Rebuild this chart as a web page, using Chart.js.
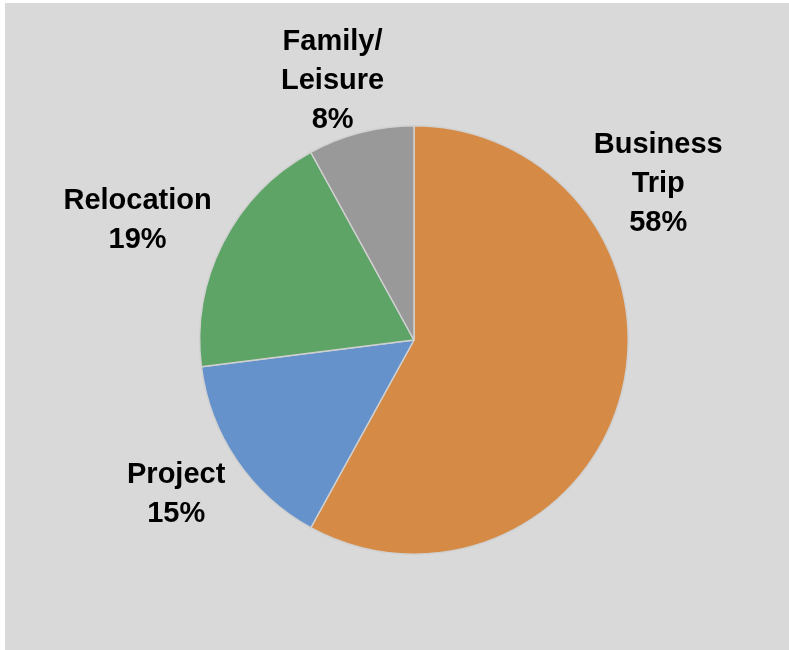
<!DOCTYPE html>
<html>
<head>
<meta charset="utf-8">
<title>Trip purpose</title>
<script src="https://cdn.jsdelivr.net/npm/chart.js@4/dist/chart.umd.min.js"></script>
<style>
  html, body { margin: 0; padding: 0; background: #ffffff; }
  #wrap {
    position: absolute;
    left: 5px;
    top: 3px;
    width: 784px;
    height: 647px;
    background: #d9d9d9;
  }
</style>
</head>
<body>
<div id="wrap"><canvas id="pie"></canvas></div>
<script>
// slice names (one entry per label line) and their shares in percent
const categories = [['Business', 'Trip'], ['Project'], ['Relocation'], ['Family/', 'Leisure']];
const shares = [58, 15, 19, 8];
const sliceColors = ['#d58b46', '#6692cc', '#5ea466', '#999999'];

// where each label block sits, as a multiple of the pie radius from its centre
const labelSpots = [[1.14, -0.73], [-1.11, 0.72], [-1.29, -0.56], [-0.38, -1.21]];

const outsideLabels = {
  id: 'outsideLabels',
  afterDatasetsDraw(chart) {
    const ctx = chart.ctx;
    const meta = chart.getDatasetMeta(0);
    const lineGap = 39;
    ctx.save();
    ctx.font = 'bold 29px "Liberation Sans", Arial, sans-serif';
    ctx.fillStyle = '#000000';
    ctx.textAlign = 'center';
    ctx.textBaseline = 'middle';
    meta.data.forEach(function (arc, i) {
      const lines = categories[i].concat([shares[i] + '%']);
      const r = arc.outerRadius;
      const cx = arc.x + labelSpots[i][0] * r;
      const cy = arc.y + labelSpots[i][1] * r;
      const top = cy - (lines.length - 1) * lineGap / 2;
      lines.forEach(function (txt, k) {
        ctx.fillText(txt, cx, top + k * lineGap);
      });
    });
    ctx.restore();
  }
};

new Chart(document.getElementById('pie'), {
  type: 'pie',
  data: {
    labels: categories.map(c => c.join(' ')),
    datasets: [{
      data: shares,
      backgroundColor: sliceColors,
      borderColor: '#d0d0d0',
      borderWidth: 1.5
    }]
  },
  options: {
    responsive: true,
    maintainAspectRatio: false,
    animation: false,
    layout: { padding: { left: 34, right: 0, top: 122, bottom: 95 } },
    plugins: {
      legend: { display: false },
      tooltip: { enabled: false }
    }
  },
  plugins: [outsideLabels]
});
</script>
</body>
</html>
